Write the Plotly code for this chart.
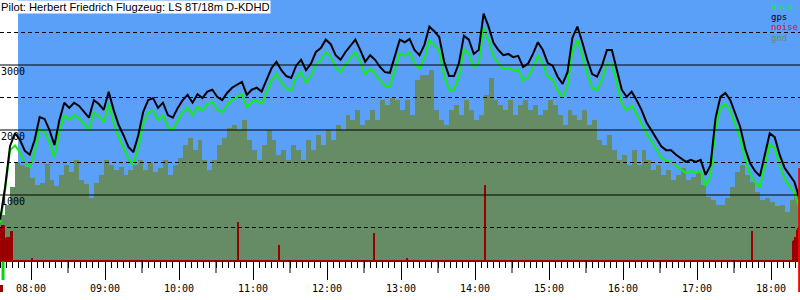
import pandas as pd
import plotly.graph_objects as go

DAY = "2024-06-01 "

# ---- data (4-minute samples starting 07:35) ----
sample_start = DAY + "07:35"
gps = [620, 1120, 1750, 1950, 1850, 1680, 1620, 1850, 2200, 2170,
       2000, 1770, 2150, 2420, 2340, 2420, 2370, 2280, 2190, 2460,
       2400, 2310, 2590, 2310, 2080, 1920, 1740, 1660, 1920, 2280,
       2460, 2490, 2340, 2420, 2230, 2190, 2340, 2460, 2540, 2420,
       2550, 2490, 2590, 2620, 2510, 2460, 2570, 2650, 2690, 2740,
       2540, 2620, 2650, 2590, 2770, 2950, 3050, 2920, 2830, 2800,
       2990, 3080, 2920, 3020, 3200, 3260, 3390, 3320, 3150, 3080,
       3200, 3290, 3390, 3230, 3050, 3150, 3080, 2970, 2890, 2880,
       3150, 3390, 3350, 3400, 3230, 3150, 3310, 3590, 3520, 3430,
       3050, 2830, 2830, 3030, 3450, 3390, 3170, 3230, 3790, 3590,
       3340, 3230, 3150, 3170, 3120, 3140, 2970, 3020, 3170, 3350,
       3230, 3030, 2990, 2820, 2710, 2890, 3420, 3590, 3350, 3080,
       2860, 2820, 2990, 3230, 3230, 2920, 2620, 2510, 2590, 2460,
       2310, 2120, 2000, 1880, 1750, 1690, 1690, 1620, 1570, 1510,
       1540, 1510, 1540, 1310, 1460, 2180, 2510, 2570, 2460, 2260,
       2050, 1720, 1490, 1370, 1290, 1620, 1950, 1890, 1620, 1420,
       1310, 1200, 950]
baro = [570, 1080, 1690, 1760, 1660, 1490, 1430, 1660, 2010, 1980,
        1810, 1580, 1960, 2230, 2150, 2230, 2180, 2090, 2000, 2270,
        2210, 2120, 2400, 2120, 1890, 1730, 1550, 1470, 1730, 2090,
        2270, 2300, 2150, 2230, 2040, 2000, 2150, 2270, 2350, 2230,
        2360, 2300, 2400, 2430, 2320, 2270, 2380, 2460, 2500, 2550,
        2350, 2430, 2460, 2400, 2580, 2760, 2860, 2730, 2640, 2610,
        2800, 2890, 2730, 2830, 3010, 3070, 3200, 3130, 2960, 2890,
        3010, 3100, 3200, 3040, 2860, 2940, 2870, 2760, 2680, 2670,
        2940, 3180, 3140, 3190, 3020, 2940, 3100, 3380, 3310, 3220,
        2840, 2620, 2620, 2820, 3240, 3180, 2960, 3020, 3580, 3380,
        3130, 3020, 2940, 2960, 2910, 2930, 2760, 2810, 2960, 3140,
        3020, 2820, 2780, 2610, 2500, 2680, 3210, 3380, 3140, 2870,
        2650, 2610, 2780, 3020, 3020, 2710, 2410, 2300, 2380, 2250,
        2100, 1950, 1830, 1710, 1580, 1520, 1520, 1450, 1400, 1340,
        1370, 1340, 1370, 1140, 1290, 2010, 2340, 2400, 2290, 2090,
        1880, 1550, 1320, 1200, 1120, 1450, 1780, 1720, 1450, 1250,
        1140, 1030, 800]
gnd = [690, 850, 1120, 1490, 1460, 1430, 1260, 1150, 1180, 1480,
       1230, 1140, 1310, 1460, 1350, 1540, 1230, 1170, 950, 1180,
       1310, 1540, 1460, 1380, 1430, 1310, 1380, 1460, 1540, 1380,
       1490, 1350, 1420, 1540, 1310, 1460, 1570, 1770, 1880, 1690,
       1850, 1540, 1380, 1540, 1770, 1880, 2030, 2080, 2000, 2150,
       1850, 1690, 1540, 1770, 2000, 1850, 1620, 1690, 1540, 1770,
       1690, 1540, 1850, 1690, 1920, 1770, 2000, 1850, 2080, 2000,
       2230, 2150, 2310, 2080, 2150, 2310, 2150, 2460, 2380, 2490,
       2460, 2310, 2460, 2230, 2770, 2850, 2850, 2920, 2310, 2150,
       2080, 2310, 2380, 2230, 2460, 2310, 2150, 2230, 2540, 2800,
       2460, 2380, 2310, 2460, 2230, 2380, 2460, 2310, 2380, 2230,
       2310, 2460, 2380, 2230, 2080, 2310, 2230, 2150, 2310, 2080,
       2150, 1850, 1770, 1920, 1690, 1540, 1620, 1460, 1690, 1460,
       1690, 1540, 1380, 1460, 1310, 1380, 1230, 1310, 1420, 1230,
       1280, 1350, 1150, 970, 920, 850, 850, 950, 1120, 1350,
       1460, 1310, 1200, 1050, 920, 950, 890, 830, 850, 740,
       920, 1030, 690]

noise_times = ["07:35", "07:36", "07:37", "07:38", "07:39", "07:40", "07:41",
               "07:42", "07:43", "07:44", "07:45", "08:01", "10:48", "11:21",
               "12:38", "13:05", "14:08", "17:45", "18:18", "18:19", "18:20",
               "18:21", "18:22"]
noise = [490, 490, 540, 540, 340, 340, 350, 350, 340, 450, 450, 30, 585, 230,
         415, 30, 1150, 450, 300, 310, 350, 460, 500]

y_labels = [1000, 2000, 3000]
solid_levels = [1000, 2000, 3000]
dashed_levels = [500, 1500, 2500, 3500]
legend_items = [("baro", "#10f010"), ("gps", "#000000"), ("noise", "#ff0000"), ("gnd", "#658c65")]
title_text = "Pilot: Herbert Friedrich Flugzeug: LS 8T/18m D-KDHD"

x_start = DAY + "07:34:52"
x_end = DAY + "18:23:31"
sky_start = DAY + "07:49:30"
takeoff_time = DAY + "07:37:20"
landing_time = DAY + "18:22:50"

# ---- build ----
times = pd.date_range(sample_start, periods=len(gps), freq="4min")
n_times = [pd.Timestamp(DAY + t) for t in noise_times]

BLUE = "#5a9ff8"
GND = "#658c65"
DRED = "#9a0000"
MONO = "DejaVu Sans Mono"
PLOT_H = 260.0

fig = go.Figure()
fig.add_trace(go.Bar(x=times, y=gnd, width=4 * 60000, offset=0,
                     marker=dict(color=GND, line=dict(width=0)), hoverinfo="skip"))
fig.add_trace(go.Bar(x=n_times, y=noise, width=80000,
                     marker=dict(color=DRED, line=dict(width=0))))
fig.add_trace(go.Scatter(x=times, y=baro, mode="lines", line=dict(color="#10f010", width=2)))
fig.add_trace(go.Scatter(x=times, y=gps, mode="lines", line=dict(color="black", width=2)))

shapes = [dict(type="rect", xref="x", yref="paper", x0=sky_start, x1=x_end, y0=0, y1=1,
               fillcolor=BLUE, line=dict(width=0), layer="below")]
for v in solid_levels:
    shapes.append(dict(type="line", xref="paper", yref="y", x0=0, x1=1, y0=v, y1=v,
                       line=dict(color="black", width=1), layer="above"))
for v in dashed_levels:
    shapes.append(dict(type="line", xref="paper", yref="y", x0=0, x1=1, y0=v, y1=v,
                       line=dict(color="black", width=1, dash="4px,3px"), layer="above"))
for h in range(7, 19):
    t = pd.Timestamp(DAY + f"{h:02d}:30")
    if pd.Timestamp(x_start) < t < pd.Timestamp(x_end):
        shapes.append(dict(type="line", xref="x", yref="paper", x0=t, x1=t, y0=0, y1=-13 / PLOT_H,
                           line=dict(color="black", width=1)))
# takeoff / landing markers
shapes.append(dict(type="line", xref="x", yref="paper", x0=takeoff_time, x1=takeoff_time,
                   y0=-1.5 / PLOT_H, y1=-20 / PLOT_H, line=dict(color="#10d010", width=3)))
shapes.append(dict(type="rect", xref="x", yref="paper", x0=x_start, x1=takeoff_time,
                   y0=-25 / PLOT_H, y1=-32 / PLOT_H, fillcolor=DRED, line=dict(width=0)))
shapes.append(dict(type="line", xref="x", yref="paper", x0=landing_time, x1=landing_time,
                   y0=-32 / PLOT_H, y1=(PLOT_H - 168) / PLOT_H, line=dict(color="#ff0000", width=2)))

annotations = [dict(text=title_text, xref="paper", yref="paper", x=0, y=1, xanchor="left",
                    yanchor="top", showarrow=False, bgcolor="white", borderpad=0,
                    font=dict(family="Liberation Sans, Arial", size=11.2, color="black"))]
for v in y_labels:
    annotations.append(dict(text=str(v), xref="paper", yref="y", x=0, y=v, xanchor="left",
                            yanchor="top", showarrow=False, borderpad=0,
                            font=dict(family=MONO, size=10, color="black")))
for i, (name, col) in enumerate(legend_items):
    py = 6.5 + i * 10.5
    annotations.append(dict(text=name, xref="paper", yref="paper", x=770 / 800, y=1 - py / PLOT_H,
                            xanchor="left", yanchor="middle", showarrow=False, borderpad=0,
                            font=dict(family=MONO, size=9, color=col)))

fig.update_layout(
    width=800, height=300, margin=dict(l=0, r=0, t=0, b=40),
    paper_bgcolor="white", plot_bgcolor="white", showlegend=False,
    barmode="overlay", bargap=0, shapes=shapes, annotations=annotations,
    xaxis=dict(type="date", range=[x_start, x_end], showgrid=False, zeroline=False,
               showline=True, linecolor=DRED, linewidth=2,
               tick0=DAY + "08:00", dtick=3600000, tickformat="%H:%M",
               ticks="outside", ticklen=18, tickcolor="black", tickwidth=1,
               tickfont=dict(family=MONO, size=10, color="black"),
               minor=dict(dtick=300000, ticks="outside", ticklen=6, tickcolor="black", tickwidth=1,
                          showgrid=False)),
    yaxis=dict(range=[0, 4000], showgrid=False, zeroline=False, showticklabels=False,
               ticks="", showline=False),
)

fig.write_html("out.html")
